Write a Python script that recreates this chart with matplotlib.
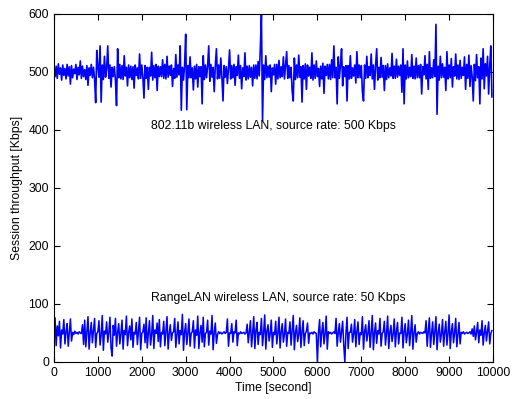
import numpy as np
import matplotlib
matplotlib.use("Agg")
import matplotlib.pyplot as plt

plt.rcParams['font.family'] = ['Liberation Sans', 'DejaVu Sans']

# sample spacing of the traces (seconds)
step = 25

# 802.11b session throughput [Kbps], one value every 25 s
wlan_80211b = [
    503, 492, 510, 489, 514, 496, 507, 486, 512, 494,
    506, 488, 513, 493, 509, 479, 511, 490, 505, 497,
    513, 487, 508, 495, 519, 489, 510, 492, 504, 487,
    511, 477, 507, 494, 513, 490, 508, 488, 447, 537,
    509, 491, 545, 448, 512, 487, 527, 491, 506, 545,
    489, 512, 474, 508, 492, 509, 486, 442, 540, 490,
    513, 488, 511, 487, 528, 493, 508, 476, 512, 490,
    510, 487, 509, 472, 512, 494, 507, 488, 531, 489,
    512, 491, 455, 511, 489, 508, 470, 508, 493, 534,
    486, 511, 490, 513, 468, 510, 492, 509, 492, 521,
    489, 513, 488, 527, 491, 510, 494, 512, 475, 506,
    489, 530, 491, 512, 495, 545, 434, 508, 486, 511,
    565, 435, 511, 490, 526, 490, 507, 469, 510, 488,
    513, 474, 509, 492, 509, 445, 528, 487, 512, 490,
    510, 545, 484, 513, 491, 508, 466, 511, 540, 488,
    512, 489, 524, 491, 450, 511, 491, 509, 480, 506,
    538, 488, 511, 490, 513, 477, 509, 494, 529, 489,
    511, 471, 507, 492, 533, 486, 510, 488, 511, 491,
    508, 476, 512, 489, 512, 488, 518, 493, 540, 600,
    416, 512, 487, 528, 490, 510, 491, 512, 466, 507,
    495, 513, 479, 513, 488, 520, 490, 509, 492, 526,
    488, 511, 535, 489, 511, 490, 508, 467, 450, 524,
    487, 512, 490, 529, 491, 509, 448, 511, 488, 514,
    470, 512, 493, 508, 489, 533, 486, 512, 489, 519,
    492, 506, 475, 510, 488, 515, 463, 510, 494, 513,
    488, 513, 487, 521, 490, 545, 490, 508, 445, 526,
    489, 512, 540, 476, 509, 492, 511, 450, 511, 488,
    528, 489, 507, 493, 512, 481, 535, 490, 512, 490,
    511, 466, 450, 512, 489, 527, 490, 509, 494, 531,
    488, 512, 470, 510, 540, 486, 508, 490, 525, 491,
    511, 468, 511, 487, 514, 490, 507, 493, 532, 489,
    510, 489, 522, 491, 510, 494, 512, 465, 540, 445,
    512, 488, 519, 490, 508, 492, 530, 489, 510, 488,
    524, 490, 511, 490, 513, 462, 509, 495, 528, 488,
    513, 470, 535, 489, 507, 490, 521, 492, 582, 427,
    510, 486, 527, 490, 514, 491, 508, 468, 535, 488,
    512, 490, 523, 474, 509, 493, 531, 488, 512, 487,
    520, 489, 508, 494, 526, 470, 513, 489, 529, 475,
    511, 492, 450, 513, 485, 530, 490, 509, 445, 524,
    488, 540, 471, 514, 493, 527, 462, 510, 545, 457,
]

# RangeLAN session throughput [Kbps], one value every 25 s
rangelan = [
    50, 76, 28, 62, 45, 70, 24, 55, 48, 73,
    31, 52, 66, 27, 50, 74, 36, 51, 47, 53,
    49, 51, 48, 52, 50, 49, 64, 30, 72, 26,
    51, 78, 22, 50, 68, 33, 54, 75, 25, 49,
    52, 71, 29, 47, 80, 20, 53, 48, 69, 34,
    50, 77, 24, 10, 63, 46, 75, 27, 51, 66,
    31, 49, 72, 22, 54, 47, 79, 28, 50, 62,
    38, 74, 25, 51, 48, 68, 30, 53, 77, 21,
    49, 52, 65, 33, 76, 24, 50, 71, 29, 47,
    80, 23, 55, 49, 67, 35, 73, 26, 51, 48,
    70, 28, 52, 78, 22, 49, 64, 37, 50, 52,
    75, 25, 48, 69, 31, 54, 47, 82, 20, 51,
    66, 30, 50, 74, 27, 49, 52, 71, 24, 55,
    46, 79, 23, 50, 63, 34, 77, 26, 49, 51,
    72, 29, 53, 48, 80, 21, 50, 67, 32, 47,
    52, 49, 51, 48, 50, 52, 49, 51, 74, 27,
    50, 49, 66, 34, 52, 50, 72, 28, 50, 48,
    52, 49, 50, 51, 48, 50, 65, 33, 52, 71,
    26, 49, 78, 23, 54, 68, 30, 51, 47, 75,
    28, 50, 81, 22, 53, 64, 36, 49, 72, 25,
    51, 47, 70, 31, 50, 77, 24, 52, 66, 34,
    48, 74, 27, 51, 49, 69, 29, 54, 80, 21,
    50, 63, 35, 47, 76, 25, 52, 71, 28, 49,
    53, 67, 32, 50, 49, 51, 48, 52, 50, 49,
    0, 50, 73, 26, 51, 68, 31, 48, 79, 22,
    52, 49, 51, 48, 50, 52, 49, 75, 27, 50,
    66, 34, 52, 70, 29, 0, 50, 77, 23, 51,
    51, 65, 34, 48, 73, 26, 53, 69, 30, 50,
    47, 78, 22, 52, 64, 36, 49, 71, 25, 51,
    80, 21, 50, 67, 32, 54, 48, 75, 27, 49,
    52, 70, 29, 50, 79, 23, 51, 63, 35, 48,
    74, 26, 53, 68, 31, 50, 49, 77, 24, 52,
    66, 33, 48, 72, 28, 51, 80, 22, 50, 64,
    34, 49, 52, 48, 51, 50, 49, 52, 50, 71,
    27, 53, 76, 25, 49, 69, 30, 52, 78, 21,
    50, 65, 34, 48, 73, 27, 51, 70, 29, 49,
    81, 23, 52, 66, 33, 50, 75, 26, 48, 68,
    31, 51, 49, 52, 48, 50, 51, 49, 50, 52,
    48, 57, 44, 62, 38, 51, 68, 33, 55, 46,
    71, 29, 50, 63, 36, 52, 69, 31, 49, 54,
]

t_top = np.arange(len(wlan_80211b)) * step
t_bot = np.arange(len(rangelan)) * step

fig = plt.figure(figsize=(5.29, 3.99), dpi=100)
ax = fig.add_axes([0.102, 0.093, 0.830, 0.872])

ax.plot(t_top, wlan_80211b, color='#0000ff', linewidth=1.2)
ax.plot(t_bot, rangelan, color='#0000ff', linewidth=1.1)

ax.text(5000, 407, '802.11b wireless LAN, source rate: 500 Kbps',
        ha='center', va='center', fontsize=8.8)
ax.text(5100, 110, 'RangeLAN wireless LAN, source rate: 50 Kbps',
        ha='center', va='center', fontsize=8.8)

ax.set_xlim(0, 10000)
ax.set_ylim(0, 600)
ax.set_xticks(np.arange(0, 10001, 1000))
ax.set_yticks(np.arange(0, 601, 100))
ax.tick_params(direction='in', top=True, right=True, length=4, labelsize=8.8)
ax.set_xlabel('Time [second]', fontsize=8.8, labelpad=2)
ax.set_ylabel('Session throughput [Kbps]', fontsize=8.8, labelpad=4)
for s in ax.spines.values():
    s.set_linewidth(0.8)

fig.savefig('out.png', dpi=100)
